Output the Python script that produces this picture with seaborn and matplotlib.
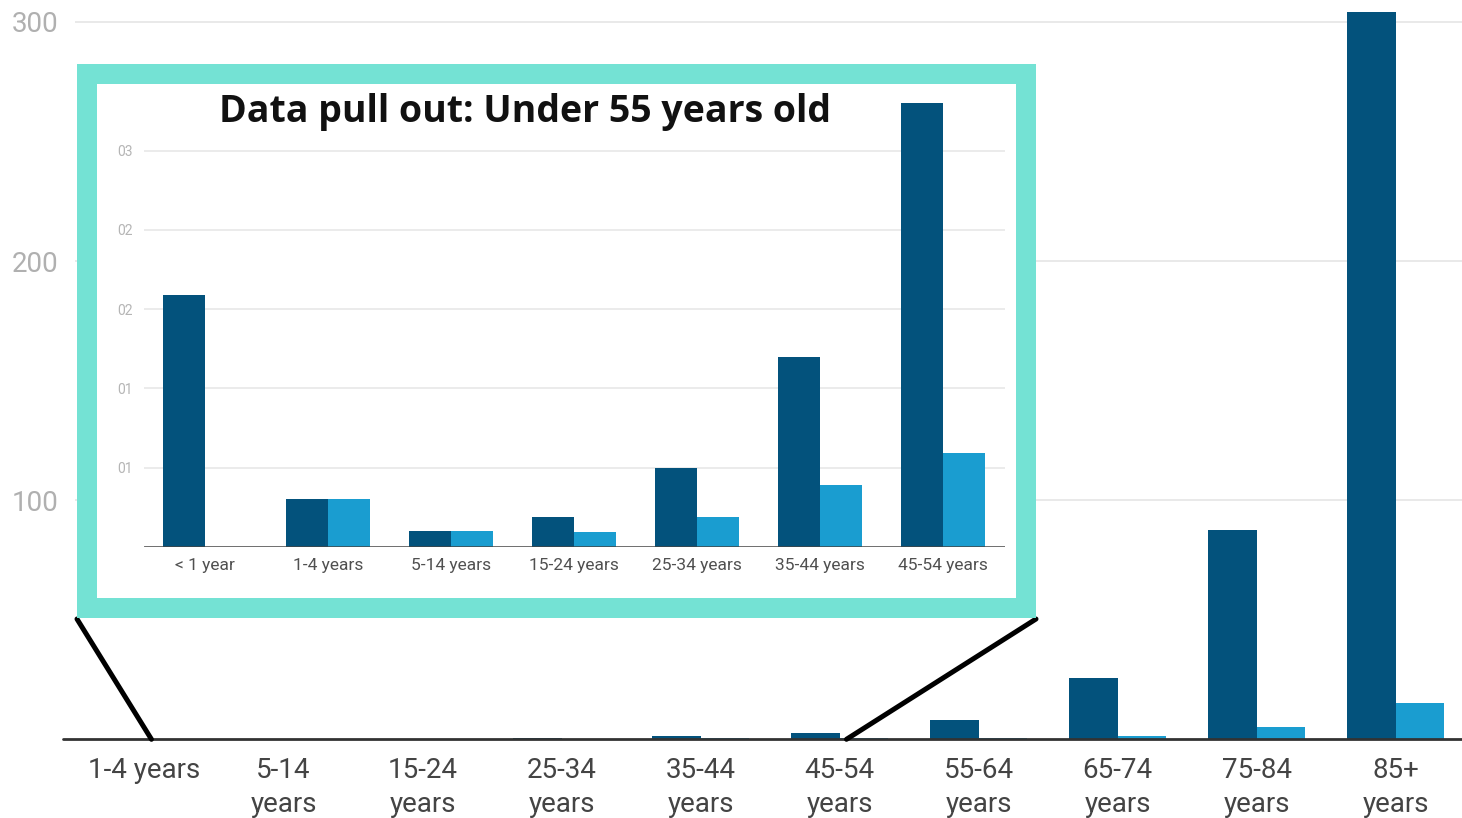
import matplotlib
matplotlib.use("Agg")
import matplotlib.pyplot as plt
import seaborn as sns
import pandas as pd
from matplotlib.patches import Rectangle, ConnectionPatch

# ---- data -------------------------------------------------------------
main_ages = ["1-4 years", "5-14 years", "15-24 years", "25-34 years",
             "35-44 years", "45-54 years", "55-64 years", "65-74 years",
             "75-84 years", "85+ years"]
main_tick_labels = ["1-4 years", "5-14\nyears", "15-24\nyears", "25-34\nyears",
                    "35-44\nyears", "45-54\nyears", "55-64\nyears", "65-74\nyears",
                    "75-84\nyears", "85+\nyears"]
rate_a = [0.30, 0.10, 0.19, 0.50, 1.20, 2.80, 8.1, 25.5, 87.4, 304.0]
rate_b = [0.30, 0.10, 0.095, 0.19, 0.39, 0.59, 0.4, 1.5, 5.0, 15.3]

infant_label = "< 1 year"
infant_a = 1.59
infant_b = 0.0

inset_ages = [infant_label] + main_ages[:6]
inset_a = [infant_a] + rate_a[:6]
inset_b = [infant_b] + rate_b[:6]

main_yticks = [100, 200, 300]
inset_yticks = [0.5, 1.0, 1.5, 2.0, 2.5]
inset_ytick_labels = ["01", "01", "02", "02", "03"]
inset_title = "Data pull out: Under 55 years old"
series_names = ["series_a", "series_b"]

# ---- style ------------------------------------------------------------
DARK = "#03527c"
LIGHT = "#1a9dd0"
TEAL = "#74e2d4"
GRID = "#e7e7e7"

sns.set_style("white")
plt.rcParams["font.family"] = ["Roboto", "DejaVu Sans"]

W, H = 1462, 818
fig = plt.figure(figsize=(W / 100, H / 100), dpi=100)
fig.patch.set_facecolor("white")


def long_frame(ages, a, b):
    return pd.DataFrame({
        "age": ages * 2,
        "value": list(a) + list(b),
        "series": [series_names[0]] * len(ages) + [series_names[1]] * len(ages),
    })


# ---- main chart -------------------------------------------------------
base_y = 739.3
ax = fig.add_axes([75 / W, 1 - base_y / H, 1387 / W, base_y / H])
ax.set_zorder(1)
sns.barplot(data=long_frame(main_ages, rate_a, rate_b), x="age", y="value",
            hue="series", hue_order=series_names, order=main_ages,
            palette=[DARK, LIGHT], width=0.7, gap=0, legend=False,
            saturation=1, linewidth=0, ax=ax)
ax.set_xlim(-0.5, 9.478)
ax.set_ylim(0, 309.2)
ax.set_yticks(main_yticks)
ax.set_yticklabels([str(v) for v in main_yticks], fontsize=20, color="#b0b0b0")
ax.set_xticks(range(len(main_ages)))
ax.set_xticklabels(main_tick_labels, fontsize=20, color="#444444",
                   linespacing=1.3, va="top")
ax.tick_params(axis="both", length=0)
ax.tick_params(axis="y", pad=12)
ax.tick_params(axis="x", pad=13)
ax.set_xlabel("")
ax.set_ylabel("")
ax.yaxis.grid(True, color=GRID, lw=1.3)
ax.set_axisbelow(True)
for s in ax.spines.values():
    s.set_visible(False)
ax.plot([-0.586, 9.478], [0, 0], color="#333333", lw=2, clip_on=False, zorder=5)

# ---- callout frame and connectors -------------------------------------
over = fig.add_axes([0, 0, 1, 1])
over.set_zorder(2)
over.set_xlim(0, W)
over.set_ylim(H, 0)
over.axis("off")
frame = Rectangle((87, 74), 939, 534, lw=20 * 0.72, edgecolor=TEAL,
                  facecolor="white", joinstyle="miter", zorder=3)
over.add_patch(frame)
for (cx, cy), idx in [((77, 619), 0), ((1036, 619), 5)]:
    con = ConnectionPatch(xyA=(cx, cy), coordsA=over.transData,
                          xyB=(idx + 0.05, 0), coordsB=ax.transData,
                          color="black", lw=3.6, zorder=2)
    over.add_artist(con)

# ---- inset chart ------------------------------------------------------
ins_base, ins_top = 547, 103
axi = fig.add_axes([143.5 / W, 1 - ins_base / H, 861 / W, (ins_base - ins_top) / H])
axi.set_zorder(3)
axi.patch.set_alpha(0)
sns.barplot(data=long_frame(inset_ages, inset_a, inset_b), x="age", y="value",
            hue="series", hue_order=series_names, order=inset_ages,
            palette=[DARK, LIGHT], width=0.68, gap=0, legend=False,
            saturation=1, linewidth=0, ax=axi)
axi.set_xlim(-0.5, 6.5)
axi.set_ylim(0, 2.8)
axi.set_yticks(inset_yticks)
axi.set_yticklabels(inset_ytick_labels, fontsize=10, color="#b5b5b5")
axi.set_xticks(range(len(inset_ages)))
axi.set_xticklabels(inset_ages, fontsize=12.5, color="#505050")
axi.tick_params(axis="both", length=0)
axi.tick_params(axis="y", pad=8)
axi.tick_params(axis="x", pad=8)
axi.set_xlabel("")
axi.set_ylabel("")
axi.yaxis.grid(True, color=GRID, lw=1.2)
axi.set_axisbelow(True)
for s in axi.spines.values():
    s.set_visible(False)
axi.axhline(0, color="#444444", lw=1.8, zorder=5)

fig.text(525 / W, 1 - 112 / H, inset_title, ha="center", va="center",
         fontsize=27, fontweight="bold", color="#111111",
         family=["Open Sans", "DejaVu Sans"], zorder=10)

fig.savefig("out.png", dpi=100)
